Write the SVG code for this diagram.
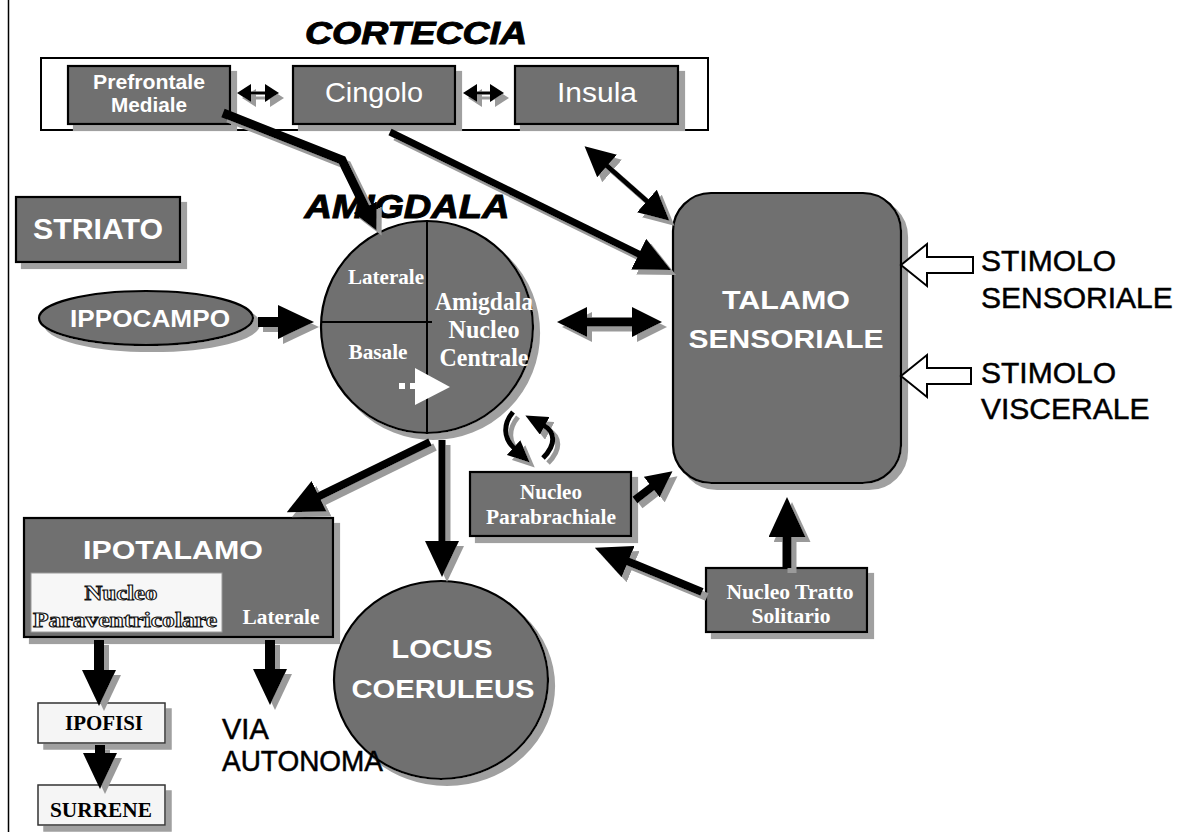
<svg xmlns="http://www.w3.org/2000/svg" width="1195" height="832" viewBox="0 0 1195 832">
<defs>
<style>
.nd{fill:#6f6f6f;stroke:#000;stroke-width:2.2}
.lt{fill:#f5f5f5;stroke:#333;stroke-width:1.5}
.sw{font-family:"Liberation Sans",Arial,sans-serif;font-weight:bold;fill:#fff;text-anchor:middle}
.sr{font-family:"Liberation Sans",Arial,sans-serif;fill:#fff;text-anchor:middle}
.tw{font-family:"Liberation Serif","Times New Roman",serif;font-weight:bold;fill:#fff;text-anchor:middle}
.tb{font-family:"Liberation Serif","Times New Roman",serif;font-weight:bold;fill:#000;text-anchor:middle}
.to{font-family:"Liberation Serif","Times New Roman",serif;font-weight:bold;fill:#fff;stroke:#111;stroke-width:1;text-anchor:middle}
.ti{font-family:"Liberation Sans",Arial,sans-serif;font-weight:bold;font-style:italic;fill:#000;text-anchor:middle;stroke:#000;stroke-width:1}
.bk{font-family:"Liberation Sans",Arial,sans-serif;fill:#000;stroke:#000;stroke-width:0.5}
.ln{fill:none;stroke:#000;stroke-linecap:butt;stroke-linejoin:miter}
</style>
<filter id="sh" x="-20%" y="-20%" width="140%" height="140%">
<feOffset in="SourceAlpha" dx="6" dy="6" result="o"/>
<feFlood flood-color="#a0a0a0"/>
<feComposite in2="o" operator="in" result="s"/>
<feMerge><feMergeNode in="s"/><feMergeNode in="SourceGraphic"/></feMerge>
</filter>
<filter id="sha" x="-20%" y="-20%" width="140%" height="140%">
<feOffset in="SourceAlpha" dx="5" dy="5" result="o"/>
<feFlood flood-color="#9a9a9a"/>
<feComposite in2="o" operator="in" result="s"/>
<feMerge><feMergeNode in="s"/><feMergeNode in="SourceGraphic"/></feMerge>
</filter>
<marker id="hb" viewBox="0 0 36 34" refX="2" refY="17" markerWidth="36" markerHeight="34" markerUnits="userSpaceOnUse" orient="auto-start-reverse"><path d="M0,0 L36,17 L0,34 z" fill="#000"/></marker>
<marker id="hl" viewBox="0 0 40 37" refX="2" refY="18.5" markerWidth="40" markerHeight="37" markerUnits="userSpaceOnUse" orient="auto-start-reverse"><path d="M0,0 L40,18.5 L0,37 z" fill="#000"/></marker>
<marker id="hm" viewBox="0 0 30 30" refX="2" refY="15" markerWidth="30" markerHeight="30" markerUnits="userSpaceOnUse" orient="auto-start-reverse"><path d="M0,0 L30,15 L0,30 z" fill="#000"/></marker>
<marker id="hn" viewBox="0 0 26 26" refX="2" refY="13" markerWidth="26" markerHeight="26" markerUnits="userSpaceOnUse" orient="auto-start-reverse"><path d="M0,0 L26,13 L0,26 z" fill="#000"/></marker>
<marker id="hc" viewBox="0 0 22 20" refX="2" refY="10" markerWidth="22" markerHeight="20" markerUnits="userSpaceOnUse" orient="auto-start-reverse"><path d="M0,0 L22,10 L0,20 z" fill="#000"/></marker>
<marker id="hs" viewBox="0 0 14 18" refX="1" refY="9" markerWidth="14" markerHeight="18" markerUnits="userSpaceOnUse" orient="auto-start-reverse"><path d="M0,0 L14,9 L0,18 z" fill="#000"/></marker>
</defs>
<rect x="0" y="0" width="1195" height="832" fill="#fff"/>
<line x1="8.5" y1="0" x2="8.5" y2="832" stroke="#000" stroke-width="1.5"/>

<g id="corteccia">
<text class="ti" x="416" y="44" font-size="32" textLength="222" lengthAdjust="spacingAndGlyphs">CORTECCIA</text>
<rect x="41" y="58" width="667" height="72" fill="#fff" stroke="#000" stroke-width="2"/>
</g>
<g id="prefrontale">
<rect class="nd" x="68" y="66" width="162" height="58" filter="url(#sh)"/>
<text class="sw" x="149" y="89" font-size="20" textLength="112" lengthAdjust="spacingAndGlyphs">Prefrontale</text>
<text class="sw" x="149" y="112" font-size="20" textLength="76" lengthAdjust="spacingAndGlyphs">Mediale</text>
</g>
<g id="cingolo">
<rect class="nd" x="293" y="66" width="162" height="58" filter="url(#sh)"/>
<text class="sr" x="374" y="102" font-size="28" textLength="98" lengthAdjust="spacingAndGlyphs">Cingolo</text>
</g>
<g id="insula">
<rect class="nd" x="515" y="66" width="163" height="58" filter="url(#sh)"/>
<text class="sr" x="597" y="102" font-size="28" textLength="80" lengthAdjust="spacingAndGlyphs">Insula</text>
</g>

<g id="striato">
<rect class="nd" x="16" y="197" width="164" height="65" filter="url(#sh)"/>
<text class="sw" x="98" y="239" font-size="30" textLength="130" lengthAdjust="spacingAndGlyphs">STRIATO</text>
</g>

<g id="ippocampo">
<ellipse class="nd" cx="146" cy="318" rx="107" ry="27" filter="url(#sh)"/>
<text class="sw" x="150" y="327" font-size="24" textLength="160" lengthAdjust="spacingAndGlyphs">IPPOCAMPO</text>
</g>

<g id="amigdala">
<text class="ti" x="407" y="218" font-size="34" textLength="205" lengthAdjust="spacingAndGlyphs">AMIGDALA</text>
<circle class="nd" cx="427" cy="327" r="106" filter="url(#sh)"/>
<line x1="427" y1="221" x2="427" y2="433" stroke="#000" stroke-width="2"/>
<line x1="322" y1="322" x2="432" y2="322" stroke="#000" stroke-width="2"/>
<text class="tw" x="386" y="284" font-size="22" textLength="76" lengthAdjust="spacingAndGlyphs">Laterale</text>
<text class="tw" x="378" y="359" font-size="22" textLength="59" lengthAdjust="spacingAndGlyphs">Basale</text>
<text class="tw" x="484" y="310" font-size="25" textLength="98" lengthAdjust="spacingAndGlyphs">Amigdala</text>
<text class="tw" x="484" y="338" font-size="25" textLength="71" lengthAdjust="spacingAndGlyphs">Nucleo</text>
<text class="tw" x="484" y="366" font-size="25" textLength="89" lengthAdjust="spacingAndGlyphs">Centrale</text>
<rect x="399" y="383" width="6" height="6" fill="#fff"/>
<rect x="410" y="383" width="6" height="6" fill="#fff"/>
<polygon points="415,368 450,387 415,405" fill="#fff"/>
</g>

<g id="talamo">
<rect class="nd" x="673" y="193" width="228" height="290" rx="38" ry="38" filter="url(#sh)"/>
<text class="sw" x="786" y="309" font-size="26" textLength="128" lengthAdjust="spacingAndGlyphs">TALAMO</text>
<text class="sw" x="786" y="348" font-size="26" textLength="195" lengthAdjust="spacingAndGlyphs">SENSORIALE</text>
</g>

<g id="stimolo-sensoriale">
<polygon points="901,265 927,244 927,257 973,257 973,273 927,273 927,286" fill="#fff" stroke="#000" stroke-width="2"/>
<text class="bk" x="981" y="271" font-size="30">STIMOLO</text>
<text class="bk" x="981" y="308" font-size="30">SENSORIALE</text>
</g>
<g id="stimolo-viscerale">
<polygon points="901,376 927,355 927,368 971,368 971,384 927,384 927,397" fill="#fff" stroke="#000" stroke-width="2"/>
<text class="bk" x="981" y="383" font-size="30">STIMOLO</text>
<text class="bk" x="981" y="419" font-size="30">VISCERALE</text>
</g>

<g id="parabrachiale">
<rect class="nd" x="470" y="472" width="161" height="64" filter="url(#sh)"/>
<text class="tw" x="551" y="499" font-size="20" textLength="62" lengthAdjust="spacingAndGlyphs">Nucleo</text>
<text class="tw" x="551" y="524" font-size="20" textLength="130" lengthAdjust="spacingAndGlyphs">Parabrachiale</text>
</g>

<g id="tratto-solitario">
<rect class="nd" x="706" y="568" width="161" height="64" filter="url(#sh)"/>
<text class="tw" x="790" y="599" font-size="20" textLength="127" lengthAdjust="spacingAndGlyphs">Nucleo Tratto</text>
<text class="tw" x="791" y="623" font-size="20" textLength="79" lengthAdjust="spacingAndGlyphs">Solitario</text>
</g>

<g id="ipotalamo">
<rect class="nd" x="24" y="518" width="309" height="119" filter="url(#sh)"/>
<text class="sw" x="173" y="559" font-size="26" textLength="180" lengthAdjust="spacingAndGlyphs">IPOTALAMO</text>
<rect x="31" y="573" width="191" height="59" fill="#f7f7f7" stroke="#999" stroke-width="1"/>
<text class="to" x="121" y="600" font-size="20" textLength="73" lengthAdjust="spacingAndGlyphs">Nucleo</text>
<text class="to" x="125" y="627" font-size="20" textLength="184" lengthAdjust="spacingAndGlyphs">Paraventricolare</text>
<text class="tw" x="281" y="624" font-size="20" textLength="77" lengthAdjust="spacingAndGlyphs">Laterale</text>
</g>

<g id="locus">
<ellipse class="nd" cx="441" cy="680" rx="107" ry="99" filter="url(#sh)"/>
<text class="sw" x="442" y="658" font-size="26" textLength="101" lengthAdjust="spacingAndGlyphs">LOCUS</text>
<text class="sw" x="443" y="698" font-size="26" textLength="183" lengthAdjust="spacingAndGlyphs">COERULEUS</text>
</g>

<g id="ipofisi">
<rect class="lt" x="38" y="703" width="127" height="40" filter="url(#sh)"/>
<text class="tb" x="104" y="730" font-size="20" textLength="78" lengthAdjust="spacingAndGlyphs">IPOFISI</text>
</g>
<g id="surrene">
<rect class="lt" x="38" y="785" width="127" height="40" filter="url(#sh)"/>
<text class="tb" x="101" y="817" font-size="20" textLength="102" lengthAdjust="spacingAndGlyphs">SURRENE</text>
</g>

<g id="via-autonoma">
<text class="bk" x="222" y="739" font-size="29">VIA</text>
<text class="bk" x="222" y="771" font-size="29" textLength="161" lengthAdjust="spacingAndGlyphs">AUTONOMA</text>
</g>

<g id="connectors" filter="url(#sha)">
<line class="ln" x1="250" y1="93" x2="266" y2="93" stroke-width="3" marker-start="url(#hs)" marker-end="url(#hs)"/>
<line class="ln" x1="476" y1="93" x2="491" y2="93" stroke-width="3" marker-start="url(#hs)" marker-end="url(#hs)"/>
<polyline class="ln" points="223,113 342,160 366,209" stroke-width="9" marker-end="url(#hn)"/>
<line class="ln" x1="390" y1="132" x2="640.5" y2="255" stroke-width="7" marker-end="url(#hb)"/>
<line class="ln" x1="605.6" y1="164.7" x2="648.4" y2="202.3" stroke-width="5" marker-start="url(#hm)" marker-end="url(#hm)"/>
<line class="ln" x1="585" y1="322" x2="634" y2="322" stroke-width="9" marker-start="url(#hm)" marker-end="url(#hm)"/>
<line class="ln" x1="258" y1="322" x2="280" y2="322" stroke-width="10" marker-end="url(#hb)"/>
<line class="ln" x1="430" y1="442" x2="317.3" y2="497.2" stroke-width="8" marker-end="url(#hb)"/>
<line class="ln" x1="442" y1="440" x2="442" y2="543" stroke-width="7" marker-end="url(#hb)"/>
<path class="ln" d="M513,412 C503,424 503,438 515,449" stroke-width="5" marker-end="url(#hc)"/>
<path class="ln" d="M543,458 C556,445 556,432 543,425" stroke-width="5" marker-end="url(#hc)"/>
<line class="ln" x1="635" y1="500" x2="653.4" y2="485.9" stroke-width="8" marker-end="url(#hn)"/>
<line class="ln" x1="787" y1="568" x2="787" y2="535" stroke-width="9" marker-end="url(#hl)"/>
<line class="ln" x1="702" y1="592" x2="626.3" y2="560.8" stroke-width="8" marker-end="url(#hb)"/>
<line class="ln" x1="99" y1="640" x2="99" y2="672" stroke-width="10" marker-end="url(#hb)"/>
<line class="ln" x1="270" y1="640" x2="270" y2="671" stroke-width="10" marker-end="url(#hb)"/>
<line class="ln" x1="100" y1="745" x2="100" y2="755" stroke-width="10" marker-end="url(#hb)"/>
</g>
</svg>
